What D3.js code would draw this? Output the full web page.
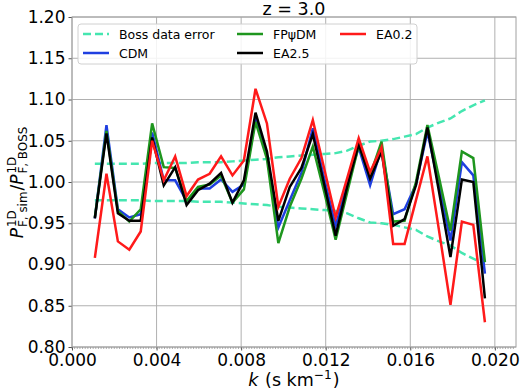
<!DOCTYPE html>
<html>
<head>
<meta charset="utf-8">
<script src="https://cdn.jsdelivr.net/npm/d3@7"></script>
<style>
  body { margin: 0; background: #fff; }
  svg { display: block; font-family: "DejaVu Sans", sans-serif; }
  svg text { white-space: pre; }
</style>
</head>
<body>
<svg id="chart" width="520" height="391"></svg>
<script>
// k bins (s/km)
const kVals = [0.00108, 0.00163, 0.00217, 0.00271, 0.00325, 0.00379, 0.00434, 0.00488,
  0.00542, 0.00596, 0.00651, 0.00705, 0.00759, 0.00813, 0.00868, 0.00922, 0.00976,
  0.01030, 0.01085, 0.01139, 0.01193, 0.01247, 0.01302, 0.01356, 0.01410, 0.01464,
  0.01519, 0.01573, 0.01627, 0.01681, 0.01736, 0.01790, 0.01844, 0.01898, 0.01953];

// relative BOSS error (band drawn at 1 +/- err)
const bossErr = [0.022, 0.022, 0.022, 0.022, 0.022, 0.023, 0.023, 0.023, 0.023, 0.024,
  0.024, 0.024, 0.025, 0.026, 0.027, 0.028, 0.030, 0.031, 0.032, 0.033, 0.034, 0.035,
  0.038, 0.044, 0.049, 0.050, 0.052, 0.055, 0.058, 0.066, 0.072, 0.077, 0.086, 0.093, 0.099];

const cdm = [0.956, 1.069, 0.967, 0.957, 0.961, 1.060, 1.002, 1.002, 0.977, 0.992,
  0.992, 1.003, 0.988, 0.997, 1.077, 1.032, 0.945, 0.978, 1.011, 1.065, 1.004, 0.947,
  0.998, 1.042, 0.996, 1.041, 0.961, 0.967, 0.997, 1.061, 0.995, 0.929, 1.024, 1.008, 0.889];

const fpsidm = [0.957, 1.062, 0.965, 0.952, 0.967, 1.071, 1.018, 1.017, 0.977, 0.994,
  0.997, 1.008, 0.975, 0.991, 1.073, 1.028, 0.926, 0.970, 1.004, 1.043, 0.988, 0.930,
  0.988, 1.044, 1.008, 1.049, 0.952, 0.953, 1.000, 1.069, 1.005, 0.941, 1.037, 1.029, 0.903];

const ea25 = [0.956, 1.059, 0.962, 0.953, 0.953, 1.054, 0.996, 1.018, 0.972, 0.990,
  0.998, 1.011, 0.975, 1.002, 1.084, 1.037, 0.953, 0.994, 1.017, 1.058, 0.997, 0.935,
  0.995, 1.046, 1.004, 1.037, 0.947, 0.955, 0.996, 1.066, 0.988, 0.909, 1.003, 1.000, 0.859];

const ea02 = [0.908, 1.010, 0.928, 0.918, 0.940, 1.050, 1.002, 1.031, 0.983, 1.003,
  1.010, 1.031, 1.008, 1.026, 1.113, 1.071, 0.970, 1.004, 1.029, 1.075, 1.016, 0.957,
  1.005, 1.053, 1.012, 1.042, 0.925, 0.925, 0.978, 1.031, 0.941, 0.851, 0.952, 0.948, 0.830];

const xTicks = [0.000, 0.004, 0.008, 0.012, 0.016, 0.020];
const yTicks = [0.80, 0.85, 0.90, 0.95, 1.00, 1.05, 1.10, 1.15, 1.20];

const margin = { top: 17, right: 4, bottom: 44, left: 72 };
const width = 520 - margin.left - margin.right;
const height = 391 - margin.top - margin.bottom;

const svg = d3.select("#chart");
const g = svg.append("g").attr("transform", `translate(${margin.left},${margin.top})`);

const x = d3.scaleLinear().domain([0, 0.021]).range([0, width]);
const y = d3.scaleLinear().domain([0.80, 1.20]).range([height, 0]);

// grid
g.append("g").selectAll("line").data(xTicks).join("line")
  .attr("x1", d => x(d)).attr("x2", d => x(d))
  .attr("y1", 0).attr("y2", height)
  .attr("stroke", "#b0b0b0").attr("stroke-width", 1);
g.append("g").selectAll("line").data(yTicks).join("line")
  .attr("x1", 0).attr("x2", width)
  .attr("y1", d => y(d)).attr("y2", d => y(d))
  .attr("stroke", "#b0b0b0").attr("stroke-width", 1);

// minor ticks on x
const minor = d3.range(0, 0.021, 0.000125);
g.append("g").selectAll("line").data(minor).join("line")
  .attr("x1", d => x(d)).attr("x2", d => x(d))
  .attr("y1", height).attr("y2", height + 2)
  .attr("stroke", "#777").attr("stroke-width", 0.6);

// axes
const xAxis = g.append("g").attr("transform", `translate(0,${height})`)
  .call(d3.axisBottom(x).tickValues(xTicks).tickFormat(d3.format(".3f")).tickSize(3.5).tickPadding(3));
const yAxis = g.append("g")
  .call(d3.axisLeft(y).tickValues(yTicks).tickFormat(d3.format(".2f")).tickSize(3.5).tickPadding(3));
[xAxis, yAxis].forEach(a => {
  a.select(".domain").remove();
  a.selectAll("line").attr("stroke", "#555");
  a.selectAll("text").attr("font-size", 17).attr("fill", "#000")
    .attr("font-family", "DejaVu Sans");
});

// frame
g.append("rect").attr("width", width).attr("height", height)
  .attr("fill", "none").attr("stroke", "#a0a0a0").attr("stroke-width", 1);

const line = d3.line().x((d, i) => x(kVals[i])).y(d => y(d));

const plot = g.append("g");
plot.append("path").datum(bossErr.map(e => 1 + e)).attr("d", line)
  .attr("fill", "none").attr("stroke", "#45e6b0").attr("stroke-width", 2.5)
  .attr("stroke-dasharray", "8,4");
plot.append("path").datum(bossErr.map(e => 1 - e)).attr("d", line)
  .attr("fill", "none").attr("stroke", "#45e6b0").attr("stroke-width", 2.5)
  .attr("stroke-dasharray", "8,4");

const series = [
  { name: "CDM", data: cdm, color: "#1f3fe0" },
  { name: "FP\u03C8DM", data: fpsidm, color: "#1e961e" },
  { name: "EA2.5", data: ea25, color: "#000000" },
  { name: "EA0.2", data: ea02, color: "#ff1a1a" }
];
series.forEach(s => {
  plot.append("path").datum(s.data).attr("d", line)
    .attr("fill", "none").attr("stroke", s.color).attr("stroke-width", 2.5)
    .attr("stroke-linejoin", "miter");
});

// legend
const leg = svg.append("g").attr("transform", "translate(78,24)");
leg.append("rect").attr("width", 339).attr("height", 40).attr("rx", 3)
  .attr("fill", "#fff").attr("fill-opacity", 0.85).attr("stroke", "#d0d0d0");
const legItems = [
  { name: "Boss data error", color: "#45e6b0", dash: "8,4", col: 0, row: 0 },
  { name: "CDM", color: series[0].color, col: 0, row: 1 },
  { name: "FP\u03C8DM", color: series[1].color, col: 1, row: 0 },
  { name: "EA2.5", color: series[2].color, col: 1, row: 1 },
  { name: "EA0.2", color: series[3].color, col: 2, row: 0 }
];
const colX = [5, 159, 262];
legItems.forEach(it => {
  const lx = colX[it.col], ly = 10 + it.row * 19;
  leg.append("line").attr("x1", lx).attr("x2", lx + 26).attr("y1", ly).attr("y2", ly)
    .attr("stroke", it.color).attr("stroke-width", 2.5)
    .attr("stroke-dasharray", it.dash || null);
  leg.append("text").attr("x", lx + 36).attr("y", ly + 4.5)
    .attr("font-size", 12.5).text(it.name);
});

// math-ish labels built from pieces
function mathText(parent, pieces, size) {
  const grp = parent.append("g");
  let cx = 0;
  pieces.forEach(p => {
    if (p.sup !== undefined || p.sub !== undefined) {
      let w = 0;
      if (p.sup !== undefined) {
        const t = grp.append("text").attr("x", cx).attr("y", -size * 0.42)
          .attr("font-size", size * 0.7).text(p.sup);
        w = Math.max(w, t.node().getComputedTextLength());
      }
      if (p.sub !== undefined) {
        const t = grp.append("text").attr("x", cx).attr("y", size * 0.22)
          .attr("font-size", size * 0.7).text(p.sub);
        w = Math.max(w, t.node().getComputedTextLength());
      }
      cx += w + 1;
    } else {
      const t = grp.append("text").attr("x", cx).attr("y", 0)
        .attr("font-size", size).attr("font-style", p.italic ? "italic" : null).text(p.t);
      cx += t.node().getComputedTextLength() + (p.italic ? 1 : 0);
    }
  });
  return { grp, w: cx };
}

// title
svg.append("text").attr("x", margin.left + width / 2).attr("y", 15)
  .attr("text-anchor", "middle").attr("font-size", 17.5).text("z = 3.0");

// x label
const xl = mathText(svg, [
  { t: "k", italic: true }, { t: " (s km" }, { sup: "\u22121" }, { t: ")" }
], 17.5);
xl.grp.attr("transform", `translate(${margin.left + width / 2 - xl.w / 2},386)`);

// y label
const yl = mathText(svg, [
  { t: "P", italic: true }, { sup: "1D", sub: "F, sim" }, { t: "/" },
  { t: "P", italic: true }, { sup: "1D", sub: "F, BOSS" }
], 17);
yl.grp.attr("transform", `translate(23,${margin.top + height / 2 + yl.w / 2}) rotate(-90)`);
</script>
</body>
</html>
